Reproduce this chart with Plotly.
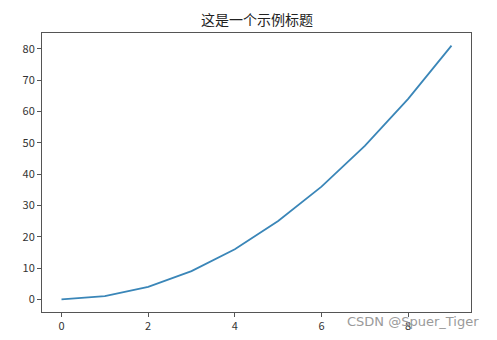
import plotly.graph_objects as go

x_values = [0, 1, 2, 3, 4, 5, 6, 7, 8, 9]
y_values = [0, 1, 4, 9, 16, 25, 36, 49, 64, 81]
title_text = "这是一个示例标题"
watermark_text = "CSDN @Spuer_Tiger"

font_family = "Noto Sans CJK SC, DejaVu Sans, sans-serif"

fig = go.Figure()
fig.add_trace(go.Scatter(x=x_values, y=y_values, mode="lines",
                         line=dict(color="#3a86b8", width=1.8)))

fig.update_layout(
    width=497, height=340,
    margin=dict(l=42, r=26, t=33, b=28),
    paper_bgcolor="white", plot_bgcolor="white",
    showlegend=False,
    font=dict(family=font_family, size=11, color="#333333"),
    title=dict(text=title_text, x=257/497, xanchor="center", y=1-20/340, yanchor="middle",
               font=dict(size=14, color="#222222", family=font_family)),
)
fig.update_xaxes(range=[-0.45, 9.45], tickvals=[0, 2, 4, 6, 8], showgrid=False, zeroline=False,
                 showline=True, linecolor="#555555", linewidth=1, mirror=True,
                 ticks="outside", ticklen=4, tickcolor="#555555", automargin=False)
fig.update_yaxes(range=[-4.05, 85.05], tickvals=[0, 10, 20, 30, 40, 50, 60, 70, 80], showgrid=False,
                 zeroline=False, showline=True, linecolor="#555555", linewidth=1, mirror=True,
                 ticks="outside", ticklen=4, tickcolor="#555555", automargin=False)
fig.add_annotation(text=watermark_text, xref="paper", yref="paper",
                   x=(481 - 42) / (497 - 42 - 26), y=-(322 - 312) / (340 - 33 - 28),
                   xanchor="right", yanchor="middle", showarrow=False,
                   font=dict(size=13, color="#9a9a9a", family="DejaVu Sans, sans-serif"))
fig.write_html("out.html")
